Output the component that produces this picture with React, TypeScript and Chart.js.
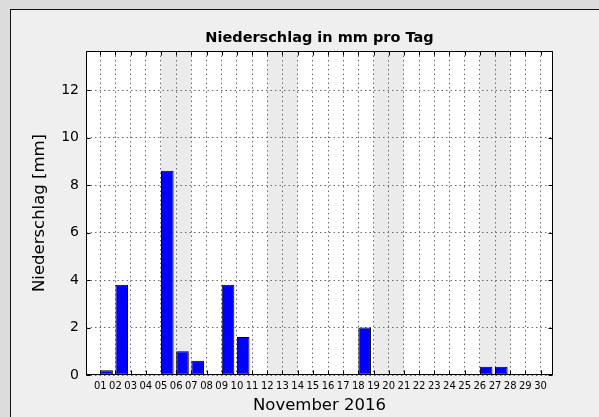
import React, { useEffect, useRef } from "react";
import { Chart, registerables } from "chart.js";

Chart.register(...registerables);

// ---- data ----
const DAYS = [1, 2, 3, 4, 5, 6, 7, 8, 9, 10, 11, 12, 13, 14, 15, 16, 17, 18, 19, 20, 21, 22, 23, 24, 25, 26, 27, 28, 29, 30];
const DAY_LABELS = ["01", "02", "03", "04", "05", "06", "07", "08", "09", "10", "11", "12", "13", "14", "15", "16", "17", "18", "19", "20", "21", "22", "23", "24", "25", "26", "27", "28", "29", "30"];
const RAIN_MM = [0.2, 3.8, 0, 0, 8.6, 1.0, 0.6, 0, 3.8, 1.6, 0, 0, 0, 0, 0, 0, 0, 2.0, 0, 0, 0, 0, 0, 0, 0, 0.35, 0.35, 0, 0, 0];
const Y_TICKS = [0, 2, 4, 6, 8, 10, 12];
const WEEKEND_STARTS = [5, 12, 19, 26];
const WEEKEND_DAYS = 2;
const BAR_WIDTH = 0.83; // in days, bars start at the day tick
const X_MIN = 0.06;
const X_MAX = 30.82;
const Y_MIN = 0;
const Y_MAX = 13.65;

const FONT = "'DejaVu Sans', sans-serif";

const decorPlugin = {
  id: "decor",
  beforeDraw(chart: any) {
    const { ctx, chartArea, scales } = chart;
    const { left, top, right, bottom } = chartArea;
    ctx.save();
    ctx.fillStyle = "#ffffff";
    ctx.fillRect(left, top, right - left, bottom - top);
    ctx.fillStyle = "#ebebeb";
    WEEKEND_STARTS.forEach((s) => {
      const x0 = scales.x.getPixelForValue(s);
      const x1 = scales.x.getPixelForValue(s + WEEKEND_DAYS);
      ctx.fillRect(x0, top, x1 - x0, bottom - top);
    });
    ctx.restore();
  },
  afterDatasetsDraw(chart: any) {
    const { ctx, chartArea, scales } = chart;
    const l = Math.round(chartArea.left) + 0.5;
    const t = Math.round(chartArea.top) + 0.5;
    const r = Math.round(chartArea.right) - 0.5;
    const b = Math.round(chartArea.bottom) - 0.5;
    ctx.save();
    ctx.strokeStyle = "#000";
    ctx.lineWidth = 1;
    ctx.beginPath();
    const TL = 4;
    DAYS.forEach((d) => {
      const px = Math.round(scales.x.getPixelForValue(d)) + 0.5;
      ctx.moveTo(px, b);
      ctx.lineTo(px, b - TL);
      ctx.moveTo(px, t);
      ctx.lineTo(px, t + TL);
    });
    Y_TICKS.forEach((v) => {
      const py = Math.round(scales.y.getPixelForValue(v)) + 0.5;
      ctx.moveTo(l, py);
      ctx.lineTo(l + TL, py);
      ctx.moveTo(r, py);
      ctx.lineTo(r - TL, py);
    });
    ctx.stroke();
    ctx.strokeRect(l, t, r - l, b - t);
    ctx.restore();
  },
};

function PrecipChart() {
  const canvasRef = useRef<HTMLCanvasElement | null>(null);

  useEffect(() => {
    document.body.style.margin = "0";
    const canvas = canvasRef.current;
    if (!canvas) return;
    Chart.defaults.font.family = FONT;

    const gridOpts = { offset: false, color: "#6a6a6a", lineWidth: 1, drawTicks: false };

    const chart = new Chart(canvas, {
      type: "bar",
      data: {
        datasets: [
          {
            data: DAYS.map((d, i) => ({ x: d + BAR_WIDTH / 2, y: RAIN_MM[i] })),
            backgroundColor: "#0000ff",
            borderColor: "#000000",
            borderWidth: (c: any) => (c.raw && c.raw.y > 0 ? 1 : 0),
            borderSkipped: false,
            barPercentage: BAR_WIDTH,
            categoryPercentage: 1,
          } as any,
        ],
      },
      options: {
        animation: false,
        responsive: false,
        maintainAspectRatio: false,
        devicePixelRatio: 1,
        layout: { padding: { left: 0, right: 46, top: 0, bottom: 0 } },
        plugins: {
          legend: { display: false },
          tooltip: { enabled: false },
          title: {
            display: true,
            fullSize: false,
            text: "Niederschlag in mm pro Tag",
            color: "#000",
            font: { family: FONT, size: 14.5, weight: "bold" },
            padding: { top: 29.3, bottom: 4.3 },
          },
        },
        scales: {
          x: {
            type: "linear",
            min: X_MIN,
            max: X_MAX,
            offset: false,
            afterBuildTicks: (scale: any) => {
              scale.ticks = DAYS.map((v) => ({ value: v }));
            },
            afterFit: (scale: any) => {
              scale.height = 42;
            },
            ticks: {
              autoSkip: false,
              maxRotation: 0,
              minRotation: 0,
              padding: 5,
              color: "#000",
              font: { family: FONT, size: 10 },
              callback: (_v: any, i: number) => DAY_LABELS[i],
            },
            grid: gridOpts,
            border: { display: false, dash: [1.5, 3] },
            title: {
              display: true,
              text: "November 2016",
              color: "#000",
              font: { family: FONT, size: 16.5 },
              padding: { top: 0, bottom: 1 },
            },
          },
          y: {
            type: "linear",
            min: Y_MIN,
            max: Y_MAX,
            afterBuildTicks: (scale: any) => {
              scale.ticks = Y_TICKS.map((v) => ({ value: v }));
            },
            afterFit: (scale: any) => {
              scale.width = 86;
            },
            ticks: {
              padding: 7,
              color: "#000",
              font: { family: FONT, size: 14 },
              callback: (v: any) => String(v),
            },
            grid: gridOpts,
            border: { display: false, dash: [1.5, 3] },
            title: {
              display: true,
              text: "Niederschlag [mm]",
              color: "#000",
              font: { family: FONT, size: 16.5 },
              padding: { top: 30, bottom: 0 },
            },
          },
        },
      } as any,
      plugins: [decorPlugin],
    });

    return () => {
      chart.destroy();
    };
  }, []);

  return (
    <div
      style={{
        position: "fixed",
        left: 0,
        top: 0,
        width: 599,
        height: 417,
        background: "#dcdcdc",
        overflow: "hidden",
      }}
    >
      <div
        style={{
          position: "absolute",
          left: 10,
          top: 9,
          width: 640,
          height: 460,
          background: "#efefef",
          borderLeft: "1px solid #111",
          borderTop: "1px solid #111",
        }}
      />
      <canvas
        ref={canvasRef}
        width={599}
        height={417}
        style={{ position: "absolute", left: 0, top: 0, width: 599, height: 417 }}
      />
    </div>
  );
}

export default function App() {
  return <PrecipChart />;
}
